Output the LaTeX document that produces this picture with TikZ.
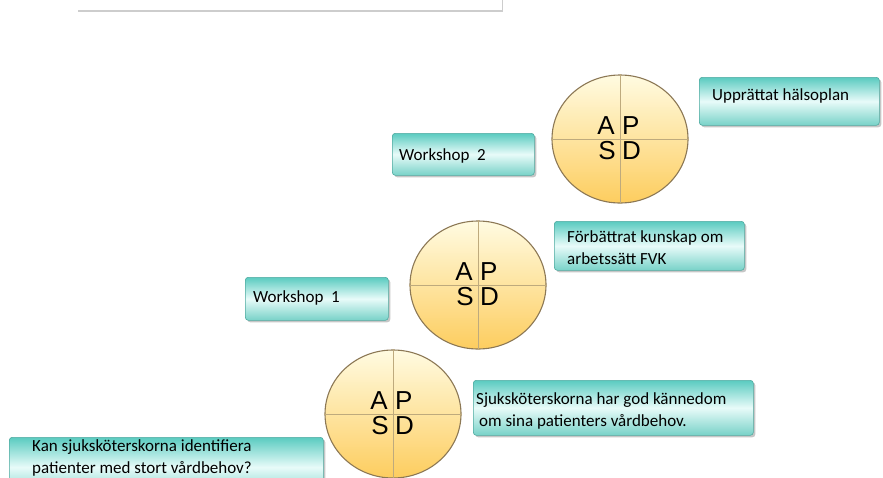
\documentclass[tikz,border=0pt]{standalone}
\usepackage{fontspec}
\setmainfont{Carlito}
\newfontfamily\apfont{Liberation Sans}
\usetikzlibrary{shadows,calc,shapes.geometric}
\definecolor{tealtop}{RGB}{90,203,192}
\definecolor{tealmid}{RGB}{232,251,249}
\definecolor{tealbot}{RGB}{120,210,200}
\definecolor{tealedge}{RGB}{80,170,160}
\definecolor{cream}{RGB}{255,251,225}
\definecolor{amber}{RGB}{253,205,95}
\definecolor{ringedge}{RGB}{140,120,85}
\definecolor{divline}{RGB}{190,170,125}
\definecolor{panelline}{RGB}{205,205,205}
\begin{document}
\begin{tikzpicture}[x=1pt,y=-1pt,
  tbox/.style={draw=tealedge, line width=0.6pt, rounded corners=3pt,
    top color=tealtop, bottom color=tealbot, middle color=tealmid,
    drop shadow={opacity=0.45, shadow xshift=2pt, shadow yshift=-2pt},
    inner sep=0pt, anchor=north west},
  btext/.style={font=\fontsize{17}{22}\selectfont, align=left, anchor=west,
    inner sep=0pt, text=black},
  pdca/.style={ellipse, draw=ringedge, line width=1.1pt, top color=cream,
    bottom color=amber, minimum width=136pt, minimum height=128pt, inner sep=0pt},
  letter/.style={font=\apfont\fontsize{26}{26}\selectfont, inner sep=0pt,
    text height=18.5pt, text depth=0pt},
  divider/.style={draw=divline, line width=0.8pt}]
\clip (0,0) rectangle (883,477);

% top panel
\node[fill=white, minimum width=424pt, minimum height=20pt, inner sep=0pt,
  anchor=south west] (panel) at (78,11) {};
\draw[panelline, line width=1.5pt] (panel.south west) -- (panel.south east) -- (panel.north east);

% PDCA wheels
\foreach \n/\cx/\cy in {c3/620/139, c2/478/285, c1/393/414}{
  \node[pdca] (\n) at (\cx,\cy) {};
  \draw[divider] (\n.north) -- (\n.south);
  \draw[divider] (\n.west) -- (\n.east);
  \node[letter, anchor=base east] (\n A) at ($(\n.center)+(-5,-5)$) {A};
  \node[letter, anchor=base west] (\n P) at ($(\n.center)+(2,-5)$) {P};
  \node[letter, anchor=base east] (\n S) at ($(\n.center)+(-4,20)$) {S};
  \node[letter, anchor=base west] (\n D) at ($(\n.center)+(2,20)$) {D};
}

% text boxes
\node[tbox, minimum width=180pt, minimum height=48pt] (b6) at (699,77) {};
\node[btext] (t6) at ($(b6.north west)+(13,19)$) {Upprättat hälsoplan};

\node[tbox, minimum width=142pt, minimum height=42pt] (b5) at (392,133) {};
\node[btext] (t5) at ($(b5.north west)+(7,23)$) {Workshop\ \ 2};

\node[tbox, minimum width=190pt, minimum height=49pt] (b4) at (554,221) {};
\node[btext] (t4) at ($(b4.north west)+(13,27)$) {Förbättrat kunskap om\\arbetssätt FVK};

\node[tbox, minimum width=143pt, minimum height=43pt] (b3) at (245,277) {};
\node[btext] (t3) at ($(b3.north west)+(8,21)$) {Workshop\ \ 1};

\node[tbox, minimum width=280pt, minimum height=55pt] (b2) at (473,380) {};
\node[btext] (t2) at ($(b2.north west)+(3,31)$) {Sjuksköterskorna har god kännedom\\\hspace*{3pt}om sina patienters vårdbehov.};

\node[tbox, minimum width=314pt, minimum height=60pt] (b1) at (9,437) {};
\node[btext] (t1) at ($(b1.north west)+(23,21)$) {Kan sjuksköterskorna identifiera\\patienter med stort vårdbehov?};
\end{tikzpicture}
\end{document}
